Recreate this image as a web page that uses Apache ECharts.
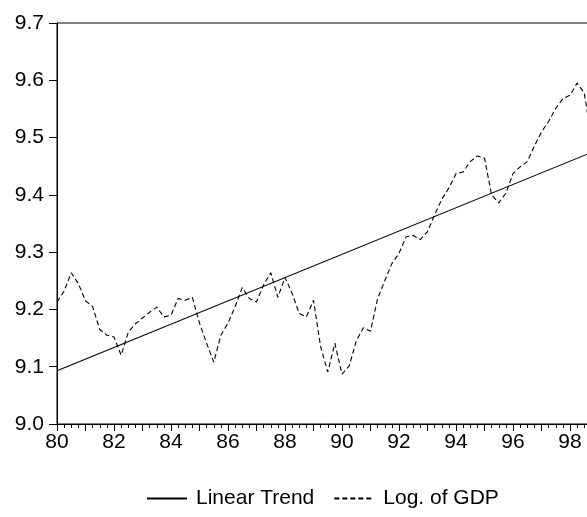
<!DOCTYPE html>
<html>
<head>
<meta charset="utf-8">
<script src="https://cdn.jsdelivr.net/npm/echarts@6/dist/echarts.min.js"></script>
<style>
html,body{margin:0;padding:0;background:#fff;}
#chart{width:587px;height:517px;}
</style>
</head>
<body>
<div id="chart"></div>
<script>
// Quarterly observations, 1980Q1 .. 1998Q4
var startYear = 80;
var gdp = [
  9.213, 9.232, 9.264, 9.245,
  9.215, 9.205, 9.165, 9.155,
  9.152, 9.120, 9.160, 9.175,
  9.185, 9.195, 9.204, 9.187,
  9.190, 9.219, 9.216, 9.221,
  9.176, 9.141, 9.108, 9.155,
  9.176, 9.205, 9.238, 9.219,
  9.213, 9.243, 9.264, 9.221,
  9.256, 9.228, 9.193, 9.187,
  9.216, 9.135, 9.091, 9.141,
  9.087, 9.101, 9.145, 9.168,
  9.162, 9.219, 9.250, 9.280,
  9.298, 9.327, 9.329, 9.322,
  9.336, 9.365, 9.392, 9.412,
  9.437, 9.440, 9.458, 9.468,
  9.464, 9.400, 9.386, 9.403,
  9.437, 9.449, 9.458, 9.485,
  9.510, 9.528, 9.551, 9.568,
  9.574, 9.595, 9.578, 9.500
];
// Linear trend: values at first and last observation
var trendEnds = [9.093, 9.474];
var yTicks = ['9.0','9.1','9.2','9.3','9.4','9.5','9.6','9.7'];
var seriesNames = ['Linear Trend', 'Log. of GDP'];

var gdpData = gdp.map(function(v, i){ return [startYear + i / 4, v]; });
var lastT = startYear + (gdp.length - 1) / 4;
var trendData = [[startYear, trendEnds[0]], [lastT, trendEnds[1]]];

var font = 'Liberation Sans, Arial, sans-serif';
var chart = echarts.init(document.getElementById('chart'), null, {renderer:'canvas'});
chart.setOption({
  animation: false,
  backgroundColor: '#fff',
  grid: {left: 57, top: 23, width: 570, height: 401, containLabel: false, outerBoundsMode: 'none',
         show: true, borderColor: '#000', borderWidth: 1, backgroundColor: 'transparent'},
  xAxis: {
    type: 'value', min: 80, max: 100, interval: 1,
    axisLine: {show: true, lineStyle: {color: '#000', width: 1}},
    axisTick: {show: true, length: 7, lineStyle: {color: '#000'}},
    minorTick: {show: true, splitNumber: 4, length: 4, lineStyle: {color: '#000'}},
    splitLine: {show: false},
    minorSplitLine: {show: false},
    axisLabel: {
      color: '#000', fontSize: 21, fontFamily: font, margin: 8,
      formatter: function(v){ var r = Math.round(v); return (r % 2 === 0 && r < 100) ? String(r) : ''; }
    }
  },
  yAxis: {
    type: 'value', min: 9.0, max: 9.7, interval: 0.1,
    axisLine: {show: true, lineStyle: {color: '#000', width: 1}},
    axisTick: {show: true, length: 8, lineStyle: {color: '#000'}},
    splitLine: {show: false},
    axisLabel: {
      color: '#000', fontSize: 21, fontFamily: font, margin: 13,
      formatter: function(v){ var s = v.toFixed(1); return yTicks.indexOf(s) >= 0 ? s : ''; }
    }
  },
  legend: {
    left: 146, top: 488, padding: 0, itemWidth: 40, itemHeight: 14, itemGap: 19,
    itemStyle: {opacity: 0},
    textStyle: {color: '#000', fontSize: 21, fontFamily: font, padding: [0,0,0,4]},
    data: seriesNames
  },
  series: [
    {
      name: seriesNames[0], type: 'line', data: trendData, symbol: 'none',
      lineStyle: {color: '#000', width: 1.1, type: 'solid'}, itemStyle: {color: '#000'}
    },
    {
      name: seriesNames[1], type: 'line', data: gdpData, symbol: 'none',
      lineStyle: {color: '#000', width: 1.1, type: [5, 3]}, itemStyle: {color: '#000'}
    }
  ]
});
</script>
</body>
</html>
